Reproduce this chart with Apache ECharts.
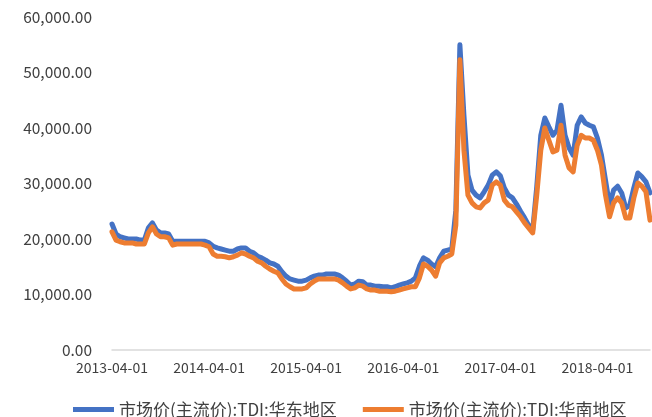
<!DOCTYPE html>
<html>
<head>
<meta charset="utf-8">
<script src="https://cdn.jsdelivr.net/npm/echarts@6/dist/echarts.min.js"></script>
<style>html,body{margin:0;padding:0;background:#fff}#c{width:652px;height:417px}</style>
</head>
<body>
<div id="c"></div>
<script>
// Semi-monthly dates from 2013-04-01 to 2018-10-16
const categories = [];
for (let m = 0; m < 67; m++) {
  const y = 2013 + Math.floor((3 + m) / 12);
  const mo = ((3 + m) % 12) + 1;
  const mm = (mo < 10 ? '0' : '') + mo;
  categories.push(y + '-' + mm + '-01');
  categories.push(y + '-' + mm + '-16');
}
categories.length = 134;

const seriesNames = ['市场价(主流价):TDI:华东地区', '市场价(主流价):TDI:华南地区'];

const eastValues = [
  22700,20900,20400,20200,20000,20000,20000,19800,19800,22000,
  22900,21600,21100,21100,20900,19600,19600,19600,19600,19600,
  19600,19600,19600,19600,19300,18700,18400,18200,18000,17800,
  17800,18200,18400,18400,17800,17500,16900,16600,16200,15700,
  15500,15100,14100,13300,12800,12600,12400,12400,12600,13000,
  13300,13500,13500,13700,13700,13700,13500,13000,12400,11700,
  11900,12400,12300,11700,11700,11500,11500,11400,11400,11200,
  11400,11700,11900,12100,12400,13000,15100,16600,16200,15500,
  15000,16600,17800,18000,18200,25200,55000,42300,31500,28800,
  27900,27400,28500,29700,31500,32100,31400,29200,27900,27400,
  26300,25000,23800,22500,21600,29400,38700,41800,40200,38700,
  39600,44100,38700,36400,35100,40500,42000,40900,40500,40200,
  38200,35100,30600,26100,28800,29500,28300,25600,26100,29200,
  31900,31200,30300,28300
];

const southValues = [
  21300,19800,19500,19300,19300,19300,19100,19100,19100,21100,
  22200,20900,20400,20400,20200,18900,19100,19100,19100,19100,
  19100,19100,19100,18900,18600,17300,16900,16900,16800,16600,
  16800,17100,17500,17300,16900,16600,16000,15700,15100,14600,
  14200,13900,12800,11900,11400,11000,11000,11000,11200,11900,
  12400,12800,12800,12800,12800,12800,12600,12100,11500,11000,
  11200,11700,11500,11000,10800,10800,10600,10600,10600,10500,
  10600,10800,11000,11200,11400,11400,13000,15500,15100,14400,
  13300,15700,16600,16900,17300,22500,52300,36000,27900,26500,
  25800,25600,26500,27000,29700,30300,29700,27000,26100,25800,
  24900,24000,22900,22000,21100,27900,36000,40000,37800,35700,
  36000,40500,35100,32800,32100,36900,38700,38200,38200,37800,
  36000,33300,27900,24000,26500,27400,26500,23800,23800,27400,
  30100,29500,28500,23400
];

const yTicks = { min: 0, max: 60000, interval: 10000 };

const chart = echarts.init(document.getElementById('c'), null, { renderer: 'canvas' });
const fontFam = '"Noto Sans CJK SC", "DejaVu Sans", sans-serif';
chart.setOption({
  animation: false,
  backgroundColor: '#ffffff',
  grid: { left: 112, right: 2, top: 17, bottom: 67, containLabel: false },
  legend: {
    top: 396,
    left: 68,
    itemWidth: 41,
    itemHeight: 5,
    itemGap: 26,
    icon: 'rect',
    textStyle: { color: '#404040', fontSize: 17, fontFamily: fontFam },
    data: seriesNames
  },
  xAxis: {
    type: 'category',
    data: categories,
    boundaryGap: false,
    axisLine: { show: true, lineStyle: { color: '#d9d9d9', width: 1.5 } },
    axisTick: { show: false },
    axisLabel: {
      interval: 23,
      color: '#404040',
      fontSize: 14,
      fontFamily: fontFam,
      margin: 11
    },
    splitLine: { show: false }
  },
  yAxis: {
    type: 'value',
    min: yTicks.min,
    max: yTicks.max,
    interval: yTicks.interval,
    axisLine: { show: false },
    axisTick: { show: false },
    splitLine: { show: false },
    axisLabel: {
      color: '#404040',
      fontSize: 15.5,
      fontFamily: fontFam,
      margin: 20,
      formatter: v => v.toLocaleString('en-US', { minimumFractionDigits: 2, maximumFractionDigits: 2 })
    }
  },
  series: [
    {
      name: seriesNames[0], type: 'line', data: eastValues, showSymbol: false,
      lineStyle: { color: '#4472C4', width: 5, join: 'round', cap: 'round' },
      itemStyle: { color: '#4472C4' }
    },
    {
      name: seriesNames[1], type: 'line', data: southValues, showSymbol: false,
      lineStyle: { color: '#ED7D31', width: 5, join: 'round', cap: 'round' },
      itemStyle: { color: '#ED7D31' }
    }
  ]
});
</script>
</body>
</html>
